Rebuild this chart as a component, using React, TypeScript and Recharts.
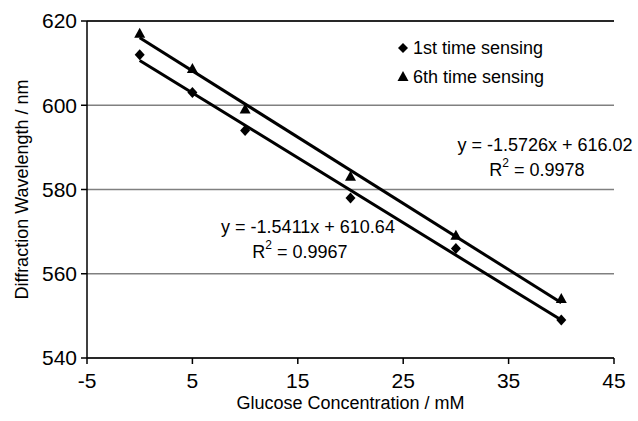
import React from "react";
import {
  ComposedChart, Scatter, XAxis, YAxis, CartesianGrid, ReferenceLine, Customized,
} from "recharts";

const FIRST_X = [0, 5, 10, 20, 30, 40];
const FIRST_Y = [612, 603, 594, 578, 566, 549];
const SIXTH_X = [0, 5, 10, 20, 30, 40];
const SIXTH_Y = [617, 608.6, 599, 583, 569, 554];

// trend line end points
const FIRST_FIT = [{ x: 0, y: 610.64 }, { x: 40, y: 549.0 }];
const SIXTH_FIT = [{ x: 0, y: 616.02 }, { x: 40, y: 553.1 }];

const X_TICKS = [-5, 5, 15, 25, 35, 45];
const Y_TICKS = [540, 560, 580, 600, 620];

const first = FIRST_X.map((x, i) => ({ x, y: FIRST_Y[i] }));
const sixth = SIXTH_X.map((x, i) => ({ x, y: SIXTH_Y[i] }));

const FONT = "Arial, 'Liberation Sans', sans-serif";

const Diamond = (p: any) => (
  <polygon
    points={`${p.cx},${p.cy - 5.5} ${p.cx + 5},${p.cy} ${p.cx},${p.cy + 5.5} ${p.cx - 5},${p.cy}`}
    fill="#000"
  />
);

const Triangle = (p: any) => (
  <polygon
    points={`${p.cx},${p.cy - 6} ${p.cx + 5.5},${p.cy + 4} ${p.cx - 5.5},${p.cy + 4}`}
    fill="#000"
  />
);

const NoDot = () => null;

function Notes() {
  return (
    <g fontFamily={FONT} fontSize={18} fill="#000">
      <polygon points="403,43 408,48 403,53 398,48" fill="#000" />
      <text x={413} y={48} dominantBaseline="central">1st time sensing</text>
      <polygon points="403,71 408.5,81 397.5,81" fill="#000" />
      <text x={413} y={77} dominantBaseline="central">6th time sensing</text>

      <text x={545} y={145} textAnchor="middle" dominantBaseline="central">y = -1.5726x + 616.02</text>
      <text x={537} y={170} textAnchor="middle" dominantBaseline="central">
        R<tspan fontSize={12} dy={-7}>2</tspan><tspan dy={7}> = 0.9978</tspan>
      </text>

      <text x={308} y={227} textAnchor="middle" dominantBaseline="central">y = -1.5411x + 610.64</text>
      <text x={300} y={252} textAnchor="middle" dominantBaseline="central">
        R<tspan fontSize={12} dy={-7}>2</tspan><tspan dy={7}> = 0.9967</tspan>
      </text>
    </g>
  );
}

export default function App() {
  return (
    <div style={{ position: "absolute", left: 0, top: 0, background: "#fff" }}>
      <ComposedChart
        width={638}
        height={421}
        margin={{ top: 21, right: 24, bottom: 0, left: 0 }}
      >
        <CartesianGrid vertical={false} stroke="#808080" strokeWidth={1.5} />
        <XAxis
          type="number"
          dataKey="x"
          domain={[-5, 45]}
          ticks={X_TICKS}
          height={63}
          stroke="#000"
          strokeWidth={1.5}
          tickSize={6}
          tick={{ fill: "#000", fontSize: 21, fontFamily: FONT }}
          tickMargin={9}
          label={{ value: "Glucose Concentration / mM", position: "insideBottom", offset: 12, fill: "#000", fontSize: 18, fontFamily: FONT }}
        />
        <YAxis
          type="number"
          dataKey="y"
          domain={[540, 620]}
          ticks={Y_TICKS}
          width={87}
          stroke="#000"
          strokeWidth={1.5}
          tickSize={6}
          tick={{ fill: "#000", fontSize: 21, fontFamily: FONT }}
          tickMargin={4}
          label={{ value: "Diffraction Wavelength / nm", angle: -90, position: "insideLeft", offset: 22, fill: "#000", fontSize: 18, fontFamily: FONT, style: { textAnchor: "middle" } }}
        />
        <ReferenceLine y={620} stroke="#000" strokeWidth={1.5} />
        <Scatter data={FIRST_FIT} line={{ stroke: "#000", strokeWidth: 3 }} shape={NoDot} isAnimationActive={false} />
        <Scatter data={SIXTH_FIT} line={{ stroke: "#000", strokeWidth: 3 }} shape={NoDot} isAnimationActive={false} />
        <Scatter data={first} shape={Diamond} isAnimationActive={false} />
        <Scatter data={sixth} shape={Triangle} isAnimationActive={false} />
        <Customized component={Notes} />
      </ComposedChart>
    </div>
  );
}
